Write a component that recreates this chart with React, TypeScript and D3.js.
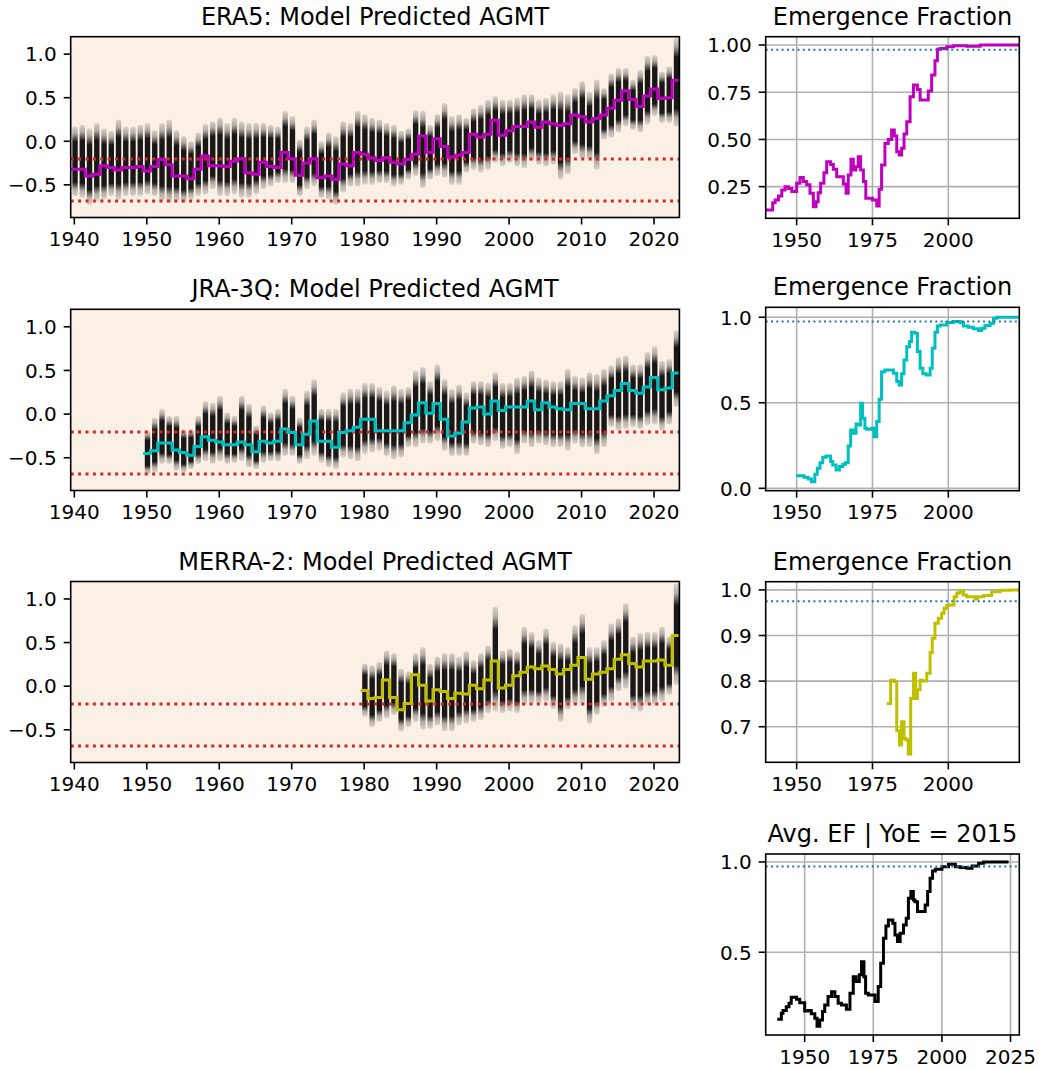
import React from 'react';
import * as d3 from 'd3';

const FONT = '"DejaVu Sans", "Liberation Sans", sans-serif';
const W = 1039, H = 1069;
const LX0 = 70.7, LX1 = 679.4;
const RX0 = 765.7, RX1 = 1019.3;
const TICK = 7, PAD = 7, FS = 20, TFS = 24;

// ---------- Left panels: annual AGMT prediction clouds ----------
const era5Start = 1940;
const era5Mean = [
  -0.32, -0.32, -0.40, -0.38, -0.28, -0.30, -0.33, -0.30, -0.30, -0.29,
  -0.34, -0.29, -0.21, -0.27, -0.40, -0.40, -0.43, -0.32, -0.17, -0.28,
  -0.28, -0.29, -0.23, -0.20, -0.36, -0.38, -0.24, -0.29, -0.30, -0.13,
  -0.20, -0.39, -0.25, -0.20, -0.42, -0.40, -0.44, -0.26, -0.28, -0.13,
  -0.15, -0.19, -0.22, -0.19, -0.24, -0.26, -0.21, -0.15, 0.06, -0.13,
  0.03, -0.06, -0.18, -0.16, -0.13, 0.08, 0.05, 0.08, 0.24, 0.07,
  0.12, 0.17, 0.17, 0.22, 0.16, 0.22, 0.20, 0.18, 0.20, 0.30,
  0.28, 0.22, 0.26, 0.30, 0.38, 0.47, 0.58, 0.48, 0.40, 0.52,
  0.60, 0.49, 0.50, 0.70,
];
const era5Top = [
  0.17, 0.19, 0.15, 0.21, 0.15, 0.12, 0.25, 0.17, 0.17, 0.19,
  0.21, 0.13, 0.21, 0.25, 0.13, 0.06, 0.00, 0.10, 0.20, 0.23,
  0.27, 0.21, 0.27, 0.23, 0.21, 0.21, 0.21, 0.19, 0.17, 0.35,
  0.29, 0.02, 0.17, 0.25, 0.00, 0.10, 0.06, 0.23, 0.21, 0.35,
  0.31, 0.27, 0.25, 0.21, 0.19, 0.12, 0.15, 0.36, 0.35, 0.19,
  0.31, 0.44, 0.29, 0.31, 0.27, 0.38, 0.42, 0.48, 0.52, 0.48,
  0.48, 0.50, 0.54, 0.54, 0.48, 0.50, 0.54, 0.57, 0.54, 0.61,
  0.69, 0.57, 0.71, 0.61, 0.78, 0.84, 0.84, 0.71, 0.82, 0.98,
  0.99, 0.80, 0.86, 1.19,
];
const era5Bottom = [
  -0.63, -0.65, -0.73, -0.69, -0.67, -0.63, -0.67, -0.63, -0.63, -0.63,
  -0.61, -0.63, -0.69, -0.71, -0.69, -0.71, -0.67, -0.63, -0.61, -0.55,
  -0.63, -0.63, -0.61, -0.65, -0.65, -0.61, -0.55, -0.52, -0.48, -0.48,
  -0.48, -0.63, -0.55, -0.52, -0.65, -0.67, -0.73, -0.59, -0.52, -0.52,
  -0.50, -0.50, -0.48, -0.48, -0.52, -0.50, -0.44, -0.40, -0.54, -0.44,
  -0.40, -0.42, -0.50, -0.50, -0.36, -0.33, -0.36, -0.33, -0.25, -0.29,
  -0.25, -0.29, -0.31, -0.23, -0.27, -0.29, -0.27, -0.44, -0.38, -0.15,
  -0.21, -0.21, -0.33, 0.02, 0.04, 0.10, 0.17, 0.13, 0.10, 0.19,
  0.29, 0.21, 0.21, 0.17,
];

const jraStart = 1950;
const jraMean = [
  -0.45, -0.42, -0.33, -0.33, -0.41, -0.44, -0.47, -0.37, -0.26, -0.30,
  -0.32, -0.35, -0.35, -0.32, -0.35, -0.43, -0.31, -0.33, -0.31, -0.17,
  -0.21, -0.35, -0.23, -0.08, -0.31, -0.31, -0.38, -0.21, -0.19, -0.15,
  -0.06, -0.06, -0.19, -0.19, -0.19, -0.19, -0.10, -0.01, 0.13, 0.01,
  0.12, -0.06, -0.25, -0.22, -0.09, 0.07, 0.08, 0.00, 0.15, 0.04,
  0.08, 0.08, 0.08, 0.15, 0.05, 0.13, 0.08, 0.06, 0.05, 0.12,
  0.12, 0.06, 0.06, 0.15, 0.21, 0.27, 0.35, 0.27, 0.24, 0.31,
  0.42, 0.28, 0.30, 0.47,
];
const jraTop = [
  -0.19, -0.04, 0.06, -0.02, -0.02, -0.17, -0.17, -0.02, 0.15, 0.13,
  0.21, 0.02, -0.02, 0.21, 0.12, -0.13, 0.10, 0.02, 0.06, 0.29,
  0.21, -0.04, 0.27, 0.40, 0.06, 0.06, 0.06, 0.25, 0.29, 0.29,
  0.36, 0.36, 0.31, 0.27, 0.33, 0.29, 0.31, 0.50, 0.54, 0.38,
  0.57, 0.40, 0.29, 0.34, 0.25, 0.38, 0.38, 0.36, 0.48, 0.36,
  0.36, 0.42, 0.44, 0.50, 0.42, 0.40, 0.38, 0.38, 0.52, 0.44,
  0.42, 0.48, 0.46, 0.52, 0.56, 0.65, 0.67, 0.57, 0.57, 0.71,
  0.78, 0.61, 0.63, 0.96,
];
const jraBottom = [
  -0.69, -0.67, -0.57, -0.57, -0.65, -0.67, -0.63, -0.57, -0.54, -0.57,
  -0.54, -0.57, -0.56, -0.54, -0.61, -0.63, -0.56, -0.54, -0.54, -0.48,
  -0.48, -0.57, -0.52, -0.48, -0.56, -0.61, -0.63, -0.50, -0.52, -0.54,
  -0.46, -0.44, -0.42, -0.48, -0.52, -0.50, -0.38, -0.38, -0.34, -0.34,
  -0.31, -0.42, -0.48, -0.48, -0.48, -0.34, -0.36, -0.38, -0.31, -0.40,
  -0.38, -0.46, -0.34, -0.38, -0.34, -0.36, -0.38, -0.38, -0.42, -0.34,
  -0.38, -0.38, -0.46, -0.38, -0.15, -0.19, -0.17, -0.15, -0.17, -0.13,
  -0.12, -0.19, -0.12, 0.08,
];

const merraStart = 1980;
const merraMean = [
  -0.05, -0.14, -0.13, 0.07, -0.13, -0.27, -0.20, 0.13, 0.01, -0.17,
  -0.04, -0.06, -0.14, -0.08, -0.09, 0.01, -0.03, 0.07, 0.29, -0.02,
  0.01, 0.12, 0.16, 0.22, 0.20, 0.23, 0.19, 0.14, 0.19, 0.24,
  0.33, 0.08, 0.14, 0.16, 0.20, 0.31, 0.36, 0.26, 0.22, 0.29,
  0.29, 0.30, 0.24, 0.58,
];
const merraTop = [
  0.26, 0.24, 0.28, 0.41, 0.38, 0.20, 0.17, 0.38, 0.45, 0.26,
  0.34, 0.38, 0.38, 0.34, 0.40, 0.30, 0.38, 0.47, 0.91, 0.41,
  0.43, 0.40, 0.68, 0.62, 0.53, 0.66, 0.51, 0.49, 0.45, 0.70,
  0.83, 0.45, 0.45, 0.53, 0.72, 0.78, 0.95, 0.57, 0.61, 0.62,
  0.62, 0.68, 0.57, 1.18,
];
const merraBottom = [
  -0.35, -0.47, -0.41, -0.37, -0.33, -0.52, -0.47, -0.41, -0.50, -0.49,
  -0.45, -0.52, -0.52, -0.45, -0.43, -0.41, -0.39, -0.31, -0.29, -0.31,
  -0.29, -0.31, -0.22, -0.20, -0.20, -0.18, -0.26, -0.41, -0.27, -0.22,
  -0.20, -0.43, -0.33, -0.24, -0.18, -0.06, -0.03, -0.27, -0.29, -0.22,
  -0.22, -0.18, -0.10, 0.01,
];

const redThresholds = [-0.205, -0.686];
const leftXTicks = [1940, 1950, 1960, 1970, 1980, 1990, 2000, 2010, 2020];
const leftYTicks = [-0.5, 0.0, 0.5, 1.0];

// ---------- Right panels: emergence fraction ----------
const emergenceThreshold = 0.975;

const era5EfX = [1939.8, 1942.1, 1942.9, 1944.0, 1945.1, 1946.2, 1947.3, 1948.4, 1950.0, 1951.1,
  1952.2, 1953.3, 1954.4, 1955.5, 1956.4, 1957.1, 1957.9, 1959.0, 1959.9, 1961.2,
  1962.1, 1963.2, 1965.4, 1966.3, 1967.0, 1967.9, 1968.7, 1969.5, 1970.3, 1971.1,
  1972.0, 1972.8, 1975.0, 1976.4, 1977.2, 1978.0, 1979.1, 1980.2, 1981.3, 1982.2,
  1983.0, 1983.8, 1984.6, 1985.4, 1986.3, 1987.4, 1988.5, 1989.8, 1990.7, 1993.4,
  1994.5, 1995.6, 1996.4, 1997.3, 1999.5, 2001.7, 2006.1, 2010.5];
const era5EfV = [0.127, 0.165, 0.18, 0.20, 0.233, 0.25, 0.24, 0.225, 0.268, 0.298,
  0.277, 0.26, 0.215, 0.144, 0.17, 0.218, 0.268, 0.324, 0.382, 0.368,
  0.342, 0.303, 0.264, 0.215, 0.312, 0.395, 0.338, 0.356, 0.409, 0.338,
  0.277, 0.188, 0.18, 0.148, 0.236, 0.365, 0.479, 0.50, 0.55, 0.518,
  0.435, 0.418, 0.453, 0.529, 0.594, 0.726, 0.788, 0.765, 0.709, 0.756,
  0.841, 0.917, 0.977, 0.982, 0.991, 0.996, 0.993, 1.0];

const jraEfX = [1949.8, 1952.4, 1953.8, 1954.9, 1956.0, 1956.8, 1957.7, 1958.6, 1959.7, 1961.2,
  1961.9, 1963.0, 1964.1, 1965.2, 1966.1, 1967.0, 1967.8, 1968.7, 1969.6, 1970.3,
  1971.1, 1971.7, 1972.5, 1973.1, 1974.7, 1975.5, 1976.4, 1977.2, 1978.0, 1979.1,
  1981.9, 1983.0, 1983.8, 1984.6, 1985.4, 1986.3, 1987.2, 1987.9, 1989.0, 1989.8,
  1990.7, 1991.6, 1992.7, 1994.0, 1994.7, 1995.6, 1996.4, 1997.3, 1999.5, 2001.7,
  2003.9, 2005.0, 2006.6, 2008.3, 2009.9, 2011.0, 2012.1, 2013.8, 2014.9, 2016.0];
const jraEfV = [0.074, 0.064, 0.055, 0.039, 0.082, 0.117, 0.150, 0.181, 0.189, 0.156,
  0.136, 0.107, 0.127, 0.140, 0.150, 0.248, 0.341, 0.322, 0.376, 0.370,
  0.497, 0.409, 0.351, 0.345, 0.351, 0.302, 0.390, 0.520, 0.682, 0.692,
  0.673, 0.624, 0.604, 0.669, 0.750, 0.828, 0.858, 0.912, 0.906, 0.799,
  0.702, 0.669, 0.663, 0.702, 0.819, 0.912, 0.949, 0.955, 0.969, 0.975,
  0.968, 0.949, 0.942, 0.932, 0.922, 0.936, 0.951, 0.965, 0.994, 1.0];

const merraEfX = [1979.7, 1981.0, 1982.2, 1983.0, 1983.9, 1984.6, 1985.4, 1986.1, 1986.8, 1987.6,
  1988.5, 1989.2, 1989.8, 1990.7, 1991.6, 1992.9, 1994.0, 1994.7, 1995.6, 1996.7,
  1997.8, 1998.6, 1999.5, 2000.0, 2001.9, 2002.8, 2003.9, 2005.0, 2006.1, 2008.8,
  2009.6, 2011.6, 2014.3, 2017.1, 2020.4];
const merraEfV = [0.751, 0.802, 0.799, 0.691, 0.660, 0.711, 0.674, 0.671, 0.640, 0.762,
  0.817, 0.762, 0.781, 0.802, 0.800, 0.817, 0.863, 0.894, 0.927, 0.938,
  0.949, 0.960, 0.966, 0.967, 0.985, 0.993, 0.998, 0.989, 0.985, 0.980,
  0.985, 0.988, 0.996, 0.999, 1.0];

const avgEfX = [1940.0, 1941.5, 1942.1, 1943.3, 1944.3, 1945.1, 1947.0, 1948.2, 1950.0, 1951.2,
  1952.4, 1953.7, 1954.5, 1955.5, 1956.5, 1957.3, 1958.5, 1959.8, 1961.0, 1962.2,
  1963.4, 1965.2, 1966.5, 1967.7, 1968.7, 1969.9, 1970.7, 1971.6, 1972.2, 1973.2,
  1975.6, 1976.8, 1977.7, 1978.7, 1979.6, 1980.5, 1982.1, 1982.9, 1983.8, 1984.8,
  1986.0, 1987.0, 1987.8, 1988.7, 1989.6, 1990.2, 1991.1, 1993.9, 1994.8, 1995.7,
  1996.6, 1997.6, 2000.0, 2002.4, 2004.9, 2006.7, 2009.1, 2011.0, 2013.4, 2015.2];
const avgEfV = [0.129, 0.162, 0.177, 0.199, 0.218, 0.251, 0.240, 0.221, 0.175, 0.177,
  0.159, 0.135, 0.09, 0.125, 0.172, 0.208, 0.255, 0.282, 0.255, 0.218,
  0.208, 0.185, 0.273, 0.365, 0.338, 0.375, 0.448, 0.365, 0.273, 0.264,
  0.227, 0.310, 0.439, 0.578, 0.646, 0.679, 0.661, 0.596, 0.559, 0.605,
  0.651, 0.688, 0.799, 0.836, 0.790, 0.780, 0.725, 0.762, 0.836, 0.910,
  0.950, 0.959, 0.974, 0.987, 0.974, 0.969, 0.965, 0.978, 0.993, 1.0];
const avgEfEnd = 2024.3;

const efXTicks = [1950, 1975, 2000];
const avgXTicks = [1950, 1975, 2000, 2025];

const minus = (s: string) => s.replace('-', '\u2212');

function CloudPanel(props: any) {
  const { id, title, start, mean, top, bottom, color, y0, y1 } = props;
  const x = d3.scaleLinear().domain([1939.5, 2023.5]).range([LX0, LX1]);
  const y = d3.scaleLinear().domain([-0.875, 1.2]).range([y1, y0]);
  const pts: [number, number][] = mean.map((v: number, i: number) => [start + i - 0.5, v]);
  pts.push([start + mean.length - 0.5, mean[mean.length - 1]]);
  const line = d3.line<[number, number]>().x(d => x(d[0])).y(d => y(d[1])).curve(d3.curveStepAfter);
  const colW = 5.4;
  const fmt = d3.format('.1f');
  return (
    <g>
      <defs>
        <clipPath id={id}>
          <rect x={LX0} y={y0} width={LX1 - LX0} height={y1 - y0} />
        </clipPath>
      </defs>
      <rect x={LX0} y={y0} width={LX1 - LX0} height={y1 - y0} fill="#faf0e6" />
      <g clipPath={`url(#${id})`}>
        {mean.map((_: number, i: number) => {
          const yt = y(top[i]);
          const yb = y(bottom[i]);
          return (
            <rect key={i} x={x(start + i + 0.1) - colW / 2} y={yt} width={colW}
              height={yb - yt} rx={colW / 2} fill="url(#cloudGrad)" />
          );
        })}
        {redThresholds.map((t, i) => (
          <line key={i} x1={LX0} x2={LX1} y1={y(t)} y2={y(t)} stroke="#d62728"
            strokeWidth={3} strokeDasharray="3,4.4" />
        ))}
        <path d={line(pts) || ''} fill="none" stroke={color} strokeWidth={3} />
      </g>
      <rect x={LX0} y={y0} width={LX1 - LX0} height={y1 - y0} fill="none" stroke="#000" strokeWidth={1.6} />
      {leftXTicks.map(t => (
        <g key={t}>
          <line x1={x(t)} x2={x(t)} y1={y1} y2={y1 + TICK} stroke="#000" strokeWidth={1.6} />
          <text x={x(t)} y={y1 + TICK + PAD + 14.6} textAnchor="middle" fontSize={FS} fontFamily={FONT}>{t}</text>
        </g>
      ))}
      {leftYTicks.map(t => (
        <g key={t}>
          <line x1={LX0 - TICK} x2={LX0} y1={y(t)} y2={y(t)} stroke="#000" strokeWidth={1.6} />
          <text x={LX0 - TICK - PAD} y={y(t) + 7.3} textAnchor="end" fontSize={FS} fontFamily={FONT}>{minus(fmt(t))}</text>
        </g>
      ))}
      <text x={(LX0 + LX1) / 2} y={y0 - 12} textAnchor="middle" fontSize={TFS} fontFamily={FONT}>{title}</text>
    </g>
  );
}

function EFPanel(props: any) {
  const { id, title, xs, vs, end, color, y0, y1, xDomain, yDomain, xTicks, yTicks, fmtStr } = props;
  const x = d3.scaleLinear().domain(xDomain).range([RX0, RX1]);
  const y = d3.scaleLinear().domain(yDomain).range([y1, y0]);
  const pts: [number, number][] = xs.map((v: number, i: number) => [v, vs[i]]);
  pts.push([end, vs[vs.length - 1]]);
  const line = d3.line<[number, number]>().x(d => x(d[0])).y(d => y(d[1])).curve(d3.curveStepAfter);
  const fmt = d3.format(fmtStr);
  return (
    <g>
      <defs>
        <clipPath id={id}>
          <rect x={RX0} y={y0} width={RX1 - RX0} height={y1 - y0} />
        </clipPath>
      </defs>
      <rect x={RX0} y={y0} width={RX1 - RX0} height={y1 - y0} fill="#fff" />
      <g clipPath={`url(#${id})`}>
        {xTicks.map((t: number) => (
          <line key={'gx' + t} x1={x(t)} x2={x(t)} y1={y0} y2={y1} stroke="#b0b0b0" strokeWidth={1.6} />
        ))}
        {yTicks.map((t: number) => (
          <line key={'gy' + t} x1={RX0} x2={RX1} y1={y(t)} y2={y(t)} stroke="#b0b0b0" strokeWidth={1.6} />
        ))}
        <path d={line(pts) || ''} fill="none" stroke={color} strokeWidth={3} />
        <line x1={RX0} x2={RX1} y1={y(emergenceThreshold)} y2={y(emergenceThreshold)}
          stroke="#1f77b4" strokeWidth={2} strokeDasharray="2,3.3" />
      </g>
      <rect x={RX0} y={y0} width={RX1 - RX0} height={y1 - y0} fill="none" stroke="#000" strokeWidth={1.6} />
      {xTicks.map((t: number) => (
        <g key={t}>
          <line x1={x(t)} x2={x(t)} y1={y1} y2={y1 + TICK} stroke="#000" strokeWidth={1.6} />
          <text x={x(t)} y={y1 + TICK + PAD + 14.6} textAnchor="middle" fontSize={FS} fontFamily={FONT}>{t}</text>
        </g>
      ))}
      {yTicks.map((t: number) => (
        <g key={t}>
          <line x1={RX0 - TICK} x2={RX0} y1={y(t)} y2={y(t)} stroke="#000" strokeWidth={1.6} />
          <text x={RX0 - TICK - PAD} y={y(t) + 7.3} textAnchor="end" fontSize={FS} fontFamily={FONT}>{fmt(t)}</text>
        </g>
      ))}
      <text x={(RX0 + RX1) / 2} y={y0 - 12} textAnchor="middle" fontSize={TFS} fontFamily={FONT}>{title}</text>
    </g>
  );
}

export default function App() {
  const efDom = [1939.8, 2023.4];
  return (
    <svg width={W} height={H} viewBox={`0 0 ${W} ${H}`}
      style={{ position: 'absolute', left: 0, top: 0, display: 'block', background: '#fff' }}>
      <defs>
        <linearGradient id="cloudGrad" x1="0" y1="0" x2="0" y2="1">
          <stop offset="0" stopColor="#000" stopOpacity={0.12} />
          <stop offset="0.1" stopColor="#000" stopOpacity={0.3} />
          <stop offset="0.22" stopColor="#000" stopOpacity={0.9} />
          <stop offset="0.8" stopColor="#000" stopOpacity={0.9} />
          <stop offset="0.9" stopColor="#000" stopOpacity={0.3} />
          <stop offset="1" stopColor="#000" stopOpacity={0.12} />
        </linearGradient>
      </defs>
      <rect x={0} y={0} width={W} height={H} fill="#fff" />
      <CloudPanel id="c1" title="ERA5: Model Predicted AGMT" start={era5Start} mean={era5Mean}
        top={era5Top} bottom={era5Bottom} color="#bf00bf" y0={36.7} y1={217.5} />
      <CloudPanel id="c2" title="JRA-3Q: Model Predicted AGMT" start={jraStart} mean={jraMean}
        top={jraTop} bottom={jraBottom} color="#00bfbf" y0={309.3} y1={490.5} />
      <CloudPanel id="c3" title="MERRA-2: Model Predicted AGMT" start={merraStart} mean={merraMean}
        top={merraTop} bottom={merraBottom} color="#bfbf00" y0={581.5} y1={762.5} />

      <EFPanel id="e1" title="Emergence Fraction" xs={era5EfX} vs={era5EfV} end={2023.4} color="#bf00bf"
        y0={36.7} y1={218.3} xDomain={efDom} yDomain={[0.0825, 1.044]} xTicks={efXTicks}
        yTicks={[0.25, 0.5, 0.75, 1.0]} fmtStr=".2f" />
      <EFPanel id="e2" title="Emergence Fraction" xs={jraEfX} vs={jraEfV} end={2023.4} color="#00bfbf"
        y0={307.3} y1={490.7} xDomain={efDom} yDomain={[-0.014, 1.058]} xTicks={efXTicks}
        yTicks={[0.0, 0.5, 1.0]} fmtStr=".1f" />
      <EFPanel id="e3" title="Emergence Fraction" xs={merraEfX} vs={merraEfV} end={2023.4} color="#bfbf00"
        y0={581.7} y1={762.3} xDomain={efDom} yDomain={[0.622, 1.018]} xTicks={efXTicks}
        yTicks={[0.7, 0.8, 0.9, 1.0]} fmtStr=".1f" />
      <EFPanel id="e4" title="Avg. EF | YoE = 2015" xs={avgEfX} vs={avgEfV} end={avgEfEnd} color="#000"
        y0={854} y1={1035} xDomain={[1935.8, 2028.2]} yDomain={[0.042, 1.044]} xTicks={avgXTicks}
        yTicks={[0.5, 1.0]} fmtStr=".1f" />
    </svg>
  );
}
